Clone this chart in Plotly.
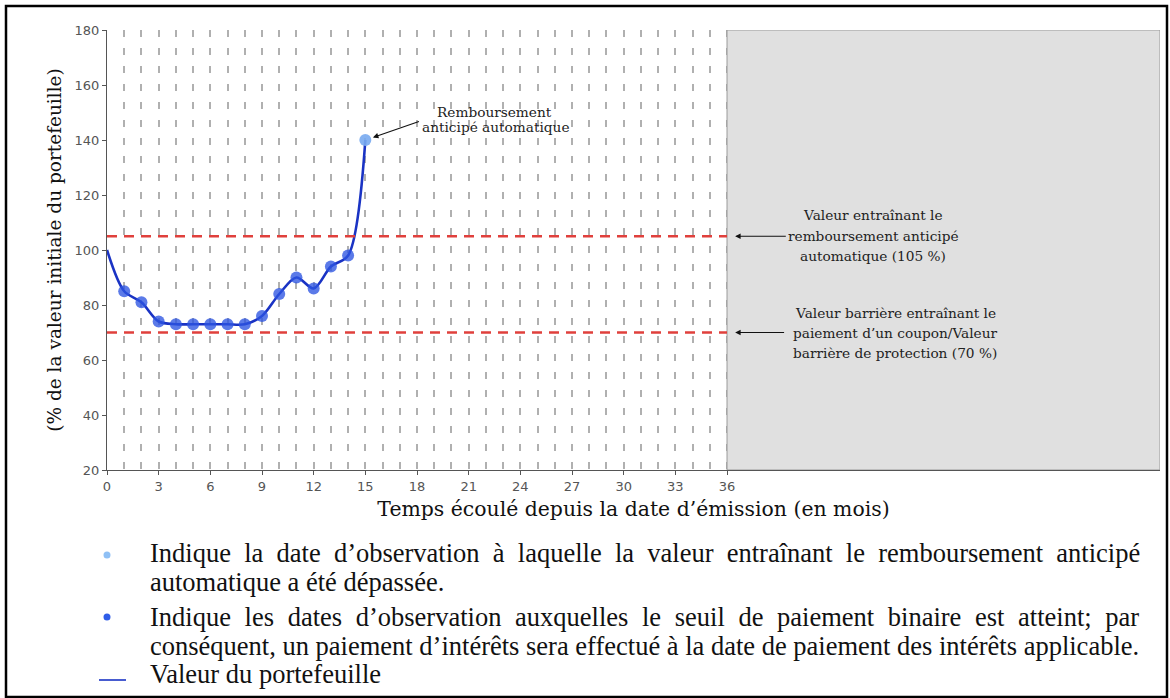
import plotly.graph_objects as go

# ---- data ----
months = [0, 1, 2, 3, 4, 5, 6, 7, 8, 9, 10, 11, 12, 13, 14, 15]
portfolio = [100, 85, 81, 74, 73, 73, 73, 73, 73, 76, 84, 90, 86, 94, 98, 140]
coupon_months = [1, 2, 3, 4, 5, 6, 7, 8, 9, 10, 11, 12, 13, 14]
coupon_values = [85, 81, 74, 73, 73, 73, 73, 73, 76, 84, 90, 86, 94, 98]
autocall_month = [15]
autocall_value = [140]
autocall_level = 105
barrier_level = 70
term_months = 36
x_max = 61.14
x_ticks = list(range(0, 37, 3))
y_ticks = list(range(20, 181, 20))

SERIF = "DejaVu Serif"
TIMES = "Liberation Serif"
SANS = "DejaVu Sans"

fig = go.Figure()

fig.add_trace(go.Scatter(
    x=months, y=portfolio, mode="lines",
    line=dict(color="#1a33c4", width=2.6, shape="spline", smoothing=0.9),
    hoverinfo="skip", showlegend=False))
fig.add_trace(go.Scatter(
    x=coupon_months, y=coupon_values, mode="markers",
    marker=dict(color="rgba(45,85,225,0.78)", size=12),
    showlegend=False))
fig.add_trace(go.Scatter(
    x=autocall_month, y=autocall_value, mode="markers",
    marker=dict(color="rgba(120,170,240,0.9)", size=12),
    showlegend=False))

# threshold lines
for lvl in (autocall_level, barrier_level):
    fig.add_shape(type="line", xref="x", yref="y", x0=0, x1=term_months, y0=lvl, y1=lvl,
                  line=dict(color="#e0403c", width=2.6, dash="10px,7px"), layer="above")

# gray region after term
fig.add_shape(type="rect", xref="x", yref="y", x0=term_months, x1=x_max, y0=20, y1=180,
              fillcolor="#e0e0e0", line=dict(color="#9a9a9a", width=1), layer="between")

ANN_FONT = dict(family=SERIF, size=13.7, color="#222")

# autocall annotation
fig.add_annotation(x=autocall_month[0], y=autocall_value[0], xref="x", yref="y",
                   ax=18.2, ay=146.9, axref="x", ayref="y",
                   text="", showarrow=True, arrowhead=2, arrowsize=1, arrowwidth=1.1,
                   arrowcolor="#111", standoff=8)
fig.add_annotation(x=22.5, y=150.2, xref="x", yref="y", text="Remboursement",
                   showarrow=False, font=ANN_FONT)
fig.add_annotation(x=22.6, y=144.7, xref="x", yref="y", text="anticipé automatique",
                   showarrow=False, font=ANN_FONT)

# threshold annotations
fig.add_annotation(x=36.47, y=autocall_level, xref="x", yref="y", ax=39.5, ay=autocall_level,
                   axref="x", ayref="y", text="", showarrow=True, arrowhead=2, arrowsize=1,
                   arrowwidth=1.1, arrowcolor="#111", standoff=0)
for txt, yv in [("Valeur entraînant le", 112.73), ("remboursement anticipé", 105.09),
                ("automatique (105 %)", 97.82)]:
    fig.add_annotation(x=44.48, y=yv, xref="x", yref="y", text=txt, showarrow=False, font=ANN_FONT)

fig.add_annotation(x=36.47, y=barrier_level, xref="x", yref="y", ax=39.4, ay=barrier_level,
                   axref="x", ayref="y", text="", showarrow=True, arrowhead=2, arrowsize=1,
                   arrowwidth=1.1, arrowcolor="#111", standoff=0)
for txt, yv in [("Valeur barrière entraînant le", 77.09), ("paiement d’un coupon/Valeur", 69.82),
                ("barrière de protection (70 %)", 62.55)]:
    fig.add_annotation(x=45.76, y=yv, xref="x", yref="y", text=txt, showarrow=False, font=ANN_FONT)

# legend notes (paper coordinates, pixels converted)
W, H = 1170, 698
L, R, T, B = 107, 10, 30, 228
pw, ph = W - L - R, H - T - B


def px(xp):
    return (xp - L) / pw


def py(yp):
    return (H - B - yp) / ph


legend_lines = [
    (553, "Indique la date d’observation à laquelle la valeur entraînant le remboursement anticipé", 6.6),
    (582, "automatique a été dépassée.", 0),
    (617, "Indique les dates d’observation auxquelles le seuil de paiement binaire est atteint; par", 7.0),
    (646, "conséquent, un paiement d’intérêts sera effectué à la date de paiement des intérêts applicable.", 0),
    (674, "Valeur du portefeuille", 0),
]
for yp, txt, ws in legend_lines:
    t = f'<span style="word-spacing:{ws}px">{txt}</span>' if ws else txt
    fig.add_annotation(x=px(148), y=py(yp), xref="paper", yref="paper", text=t,
                       showarrow=False, xanchor="left", yanchor="middle",
                       font=dict(family=TIMES, size=26.5, color="#111"))
# legend symbols
fig.add_shape(type="circle", xref="paper", yref="paper", x0=px(103.5), x1=px(110.5),
              y0=py(558.5), y1=py(551.5), fillcolor="#8fc0f5", line=dict(width=0))
fig.add_shape(type="circle", xref="paper", yref="paper", x0=px(103.5), x1=px(110.5),
              y0=py(620.5), y1=py(613.5), fillcolor="#2f5de8", line=dict(width=0))
fig.add_shape(type="line", xref="paper", yref="paper", x0=px(99), x1=px(126), y0=py(680), y1=py(680),
              line=dict(color="#1a33c4", width=1.6))

# outer border
fig.add_shape(type="rect", xref="paper", yref="paper", x0=px(6), x1=px(1167), y0=py(6), y1=py(697),
              line=dict(color="#000", width=2.5), fillcolor="rgba(0,0,0,0)")

fig.update_layout(
    width=W, height=H,
    margin=dict(l=L, r=R, t=T, b=B, autoexpand=False),
    paper_bgcolor="white", plot_bgcolor="white",
    showlegend=False,
    xaxis=dict(range=[0, x_max], tickvals=x_ticks, ticktext=[str(v) for v in x_ticks],
               showgrid=True, gridcolor="#b0b0b0", gridwidth=2, griddash="7px,11px",
               minor=dict(dtick=1, tick0=0, showgrid=True, gridcolor="#b0b0b0", gridwidth=2,
                          griddash="7px,11px", ticks=""),
               showline=True, linecolor="#555", linewidth=1.2, ticks="outside", ticklen=4,
               tickcolor="#555", tickfont=dict(family=SANS, size=13, color="#555"),
               zeroline=False, automargin=False,
               title=dict(text="Temps écoulé depuis la date d’émission (en mois)",
                          font=dict(family=SERIF, size=20.4, color="#111"), standoff=9)),
    yaxis=dict(range=[20, 180], tickvals=y_ticks, showgrid=False, zeroline=False,
               showline=True, linecolor="#555", linewidth=1.2, ticks="outside", ticklen=4,
               tickcolor="#555", tickfont=dict(family=SANS, size=13, color="#555"),
               automargin=False,
               title=dict(text="(% de la valeur initiale du portefeuille)",
                          font=dict(family=SERIF, size=18.5, color="#111"), standoff=7)),
)

fig.write_html("out.html", post_script="document.body.style.margin='0';",
               config={"displayModeBar": False})
